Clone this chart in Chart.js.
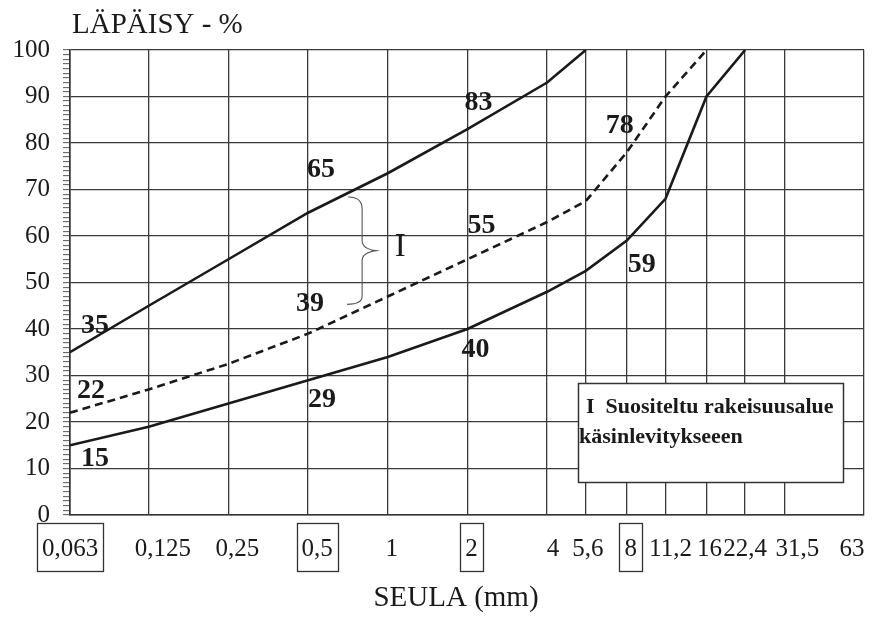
<!DOCTYPE html>
<html>
<head>
<meta charset="utf-8">
<script src="https://cdn.jsdelivr.net/npm/chart.js@4.4.1/dist/chart.umd.min.js"></script>
<style>
  html, body { margin: 0; padding: 0; background: #fff; }
  #wrap { width: 872px; height: 617px; }
</style>
</head>
<body>
<div id="wrap"><canvas id="ch-seula"></canvas></div>
<script>
/* ── Sieve sizes (mm) and axis labels ── */
var sieves = [0.063, 0.125, 0.25, 0.5, 1, 2, 4, 5.6, 8, 11.2, 16, 22.4, 31.5, 63];
var sieveLabels = ['0,063', '0,125', '0,25', '0,5', '1', '2', '4', '5,6', '8', '11,2', '16', '22,4', '31,5', '63'];
var boxedSieves = [0.063, 0.5, 2, 8];
var yTicks = [0, 10, 20, 30, 40, 50, 60, 70, 80, 90, 100];

/* ── Passing % per sieve ── */
var upperLimit = [35, 45, 55, 65, 73.5, 83, 93, 100];
var midLine = [22, 27, 32.5, 39, 47, 55, 63, 67.5, 78, 90, 100];
var lowerLimit = [15, 19, 24, 29, 34, 40, 48, 52.5, 59, 68, 90, 100];

/* points whose value is written beside the curve */
var upperMarked = [0, 3, 5];
var midMarked = [0, 3, 5, 8];
var lowerMarked = [0, 3, 5, 8];

/* text offsets (px) for those values, per point index */
var upperOff = { 0: [25, -26], 3: [13, -43], 5: [11, -26] };
var midOff = { 0: [21, -22], 3: [2, -30], 5: [14, -33], 8: [-7, -27] };
var lowerOff = { 0: [25, 14], 3: [14, 20], 5: [8, 21], 8: [15, 24] };

/* horizontal nudge (px) of the sieve labels off their grid line */
var labelNudge = { '0,125': 14, '0,25': 9, '0,5': 9, '1': 4, '2': 4, '4': 6, '5,6': 2,
  '8': 4, '11,2': 5, '16': 3, '31,5': 13, '63': -12 };

var SERIF = '"Liberation Serif", "Times New Roman", serif';
var INK = '#1a1a1a';
var GRID = '#3a3a3a';

function toPoints(vals) {
  return vals.map(function(v, i) { return { x: sieves[i], y: v }; });
}

function curve(vals, dashed) {
  return {
    data: toPoints(vals),
    borderColor: INK,
    borderWidth: 2.6,
    borderDash: dashed ? [8, 5] : [],
    pointRadius: 0,
    fill: false,
    tension: 0
  };
}

/* curly brace pointing right, spanning y0..y1 at x */
function brace(ctx, x, y0, y1) {
  var m = (y0 + y1) / 2;
  ctx.beginPath();
  ctx.moveTo(x - 14, y0);
  ctx.quadraticCurveTo(x, y0, x, y0 + 12);
  ctx.lineTo(x, m - 10);
  ctx.quadraticCurveTo(x, m - 2, x + 14, m);
  ctx.quadraticCurveTo(x, m + 2, x, m + 10);
  ctx.lineTo(x, y1 - 8);
  ctx.quadraticCurveTo(x, y1, x - 15, y1);
  ctx.stroke();
}

var decor = {
  id: 'decor',
  afterDraw: function(chart) {
    var ctx = chart.ctx, xs = chart.scales.x, ys = chart.scales.y, a = chart.chartArea;
    ctx.save();
    ctx.fillStyle = INK;
    ctx.textBaseline = 'middle';

    // axis titles
    ctx.font = '29px ' + SERIF;
    ctx.textAlign = 'left';
    ctx.fillText('LÄPÄISY - %', a.left + 2, 25);
    ctx.textAlign = 'center';
    ctx.fillText('SEULA (mm)', 456, 598);

    // sieve labels under the axis, key sizes boxed
    ctx.font = '25px ' + SERIF;
    ctx.strokeStyle = '#333';
    ctx.lineWidth = 1.3;
    xs.ticks.forEach(function(t) {
      var i = sieves.indexOf(t.value);
      if (i < 0) return;
      var txt = sieveLabels[i];
      var px = xs.getPixelForValue(t.value) + (labelNudge[txt] || 0);
      ctx.fillText(txt, px, a.bottom + 34);
      if (boxedSieves.indexOf(t.value) >= 0) {
        var w = Math.round(ctx.measureText(txt).width + 10);
        ctx.strokeRect(Math.round(px - w / 2) + 0.5, a.bottom + 8.5, w, 48);
      }
    });

    // values written beside the curves
    ctx.font = 'bold 28px ' + SERIF;
    [[upperLimit, upperMarked, upperOff], [midLine, midMarked, midOff], [lowerLimit, lowerMarked, lowerOff]]
      .forEach(function(set) {
        set[1].forEach(function(i) {
          var v = set[0][i];
          ctx.fillText(String(v), xs.getPixelForValue(sieves[i]) + set[2][i][0],
            ys.getPixelForValue(v) + set[2][i][1]);
        });
      });

    // range I brace between the upper and middle curves
    ctx.strokeStyle = '#555';
    ctx.lineWidth = 1.1;
    brace(ctx, xs.getPixelForValue(0.8), ys.getPixelForValue(68.4), ys.getPixelForValue(45.3));
    ctx.font = '33px ' + SERIF;
    ctx.fillText('I', xs.getPixelForValue(0.8) + 38, ys.getPixelForValue(57.5));

    // note box
    var bx = 578, by = 383, bw = 265, bh = 99;
    ctx.fillStyle = '#fff';
    ctx.fillRect(bx, by, bw, bh);
    ctx.strokeStyle = '#333';
    ctx.lineWidth = 1.5;
    ctx.strokeRect(bx + 0.5, by + 0.5, bw, bh);
    ctx.fillStyle = INK;
    ctx.textAlign = 'left';
    ctx.font = 'bold 22px ' + SERIF;
    ctx.fillText('I  Suositeltu rakeisuusalue', bx + 8, by + 24);
    ctx.fillText('käsinlevitykseeen', bx + 1, by + 54);
    ctx.restore();
  }
};

new Chart(document.getElementById('ch-seula'), {
  type: 'line',
  data: {
    datasets: [curve(upperLimit, false), curve(midLine, true), curve(lowerLimit, false)]
  },
  options: {
    responsive: true,
    maintainAspectRatio: false,
    animation: false,
    layout: { padding: { left: 0, right: 8, top: 50, bottom: 0 } },
    plugins: { legend: { display: false }, tooltip: { enabled: false } },
    scales: {
      x: {
        type: 'logarithmic',
        min: sieves[0],
        max: sieves[sieves.length - 1],
        afterBuildTicks: function(scale) {
          scale.ticks = sieves.map(function(s) { return { value: s }; });
        },
        afterFit: function(scale) {
          scale.height = 102;
          scale.paddingLeft = 0;
          scale.paddingRight = 0;
        },
        grid: { color: GRID, lineWidth: 1.3, drawTicks: false },
        border: { display: true, color: '#333', width: 1.6 },
        ticks: { display: false, autoSkip: false }
      },
      y: {
        min: 0,
        max: 100,
        afterFit: function(scale) { scale.width = 70; },
        grid: {
          lineWidth: 1.3,
          tickLength: 7,
          tickWidth: 1,
          tickColor: '#555',
          color: function(c) {
            return c.tick && yTicks.indexOf(c.tick.value) >= 0 ? GRID : 'rgba(0,0,0,0)';
          }
        },
        border: { display: true, color: '#333', width: 1.6 },
        ticks: {
          stepSize: 1,
          maxTicksLimit: 101,
          autoSkip: false,
          padding: 13,
          color: INK,
          font: { family: SERIF, size: 25 },
          callback: function(v) { return yTicks.indexOf(v) >= 0 ? String(v) : ''; }
        }
      }
    }
  },
  plugins: [decor]
});
</script>
</body>
</html>
